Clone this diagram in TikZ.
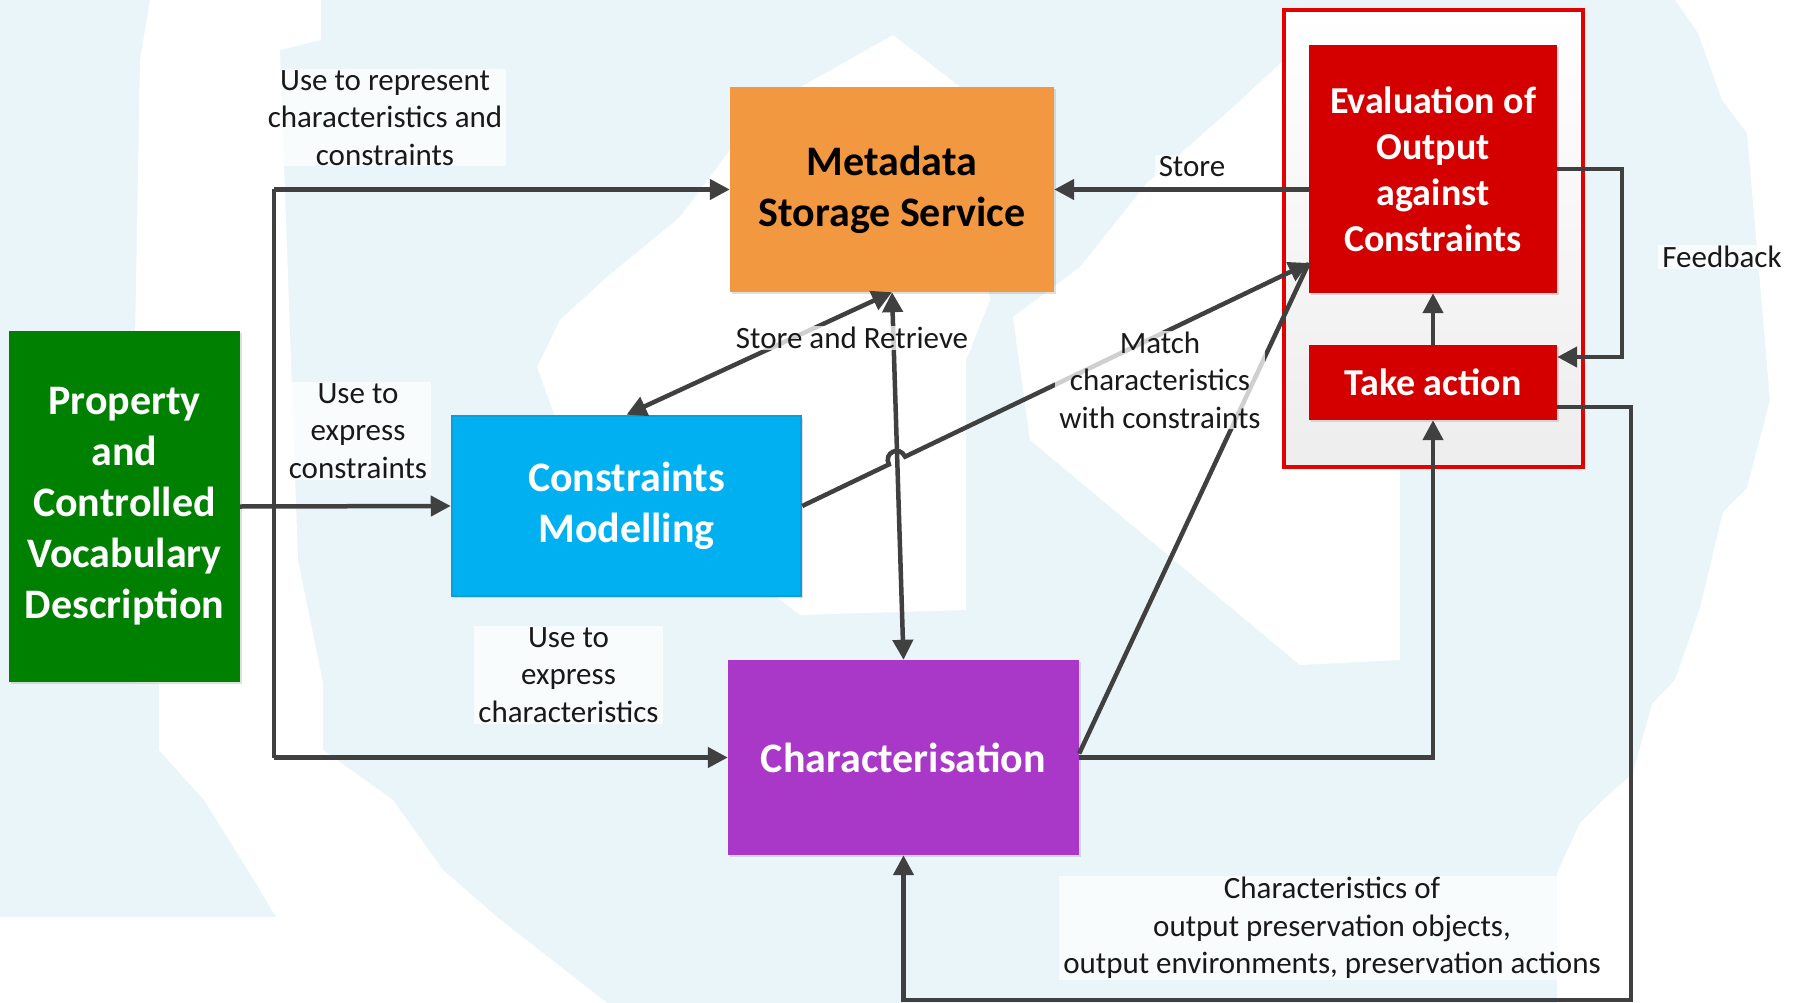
\documentclass[tikz,border=0pt]{standalone}
\usepackage{fontspec}
\setmainfont{Carlito}
\usetikzlibrary{arrows.meta,calc,shadows}
\definecolor{bgblue}{HTML}{EAF5FA}
\definecolor{gbox}{HTML}{008000}
\definecolor{obox}{HTML}{F29841}
\definecolor{bbox}{HTML}{00B0F0}
\definecolor{bboxd}{HTML}{0A9FD9}
\definecolor{pbox}{HTML}{A937C7}
\definecolor{rbox}{HTML}{D40000}
\definecolor{rframe}{HTML}{E20000}
\definecolor{linec}{HTML}{404040}
\begin{document}
\begin{tikzpicture}[x=1pt,y=-1pt,
  box/.style={rectangle, inner sep=0pt, align=center, text=white,
    font=\bfseries\fontsize{42}{51}\selectfont,
    drop shadow={shadow xshift=2pt,shadow yshift=-2pt,opacity=0.25}},
  lbl/.style={align=center, font=\fontsize{31}{37.5}\selectfont, text=black!90,
    inner xsep=4pt, inner ysep=1pt, fill=white, fill opacity=0.75, text opacity=1},
  conn/.style={draw=linec, line width=4.5pt},
  arr/.style={conn, -{Triangle[length=20pt,width=20pt]}},
  darr/.style={conn, {Triangle[length=20pt,width=20pt]}-{Triangle[length=20pt,width=20pt]}},
]
\useasboundingbox (0,0) rectangle (1801,1003);
% background
\fill[bgblue] (0,0) rectangle (1801,1003);
\fill[white] (150,0) -- (321,0) -- (321,40) -- (280,50) -- (298,560) -- (323,683) -- (323,750) -- (393,800) -- (443,870) -- (497,917) -- (607,1003) -- (0,1003) -- (0,917) -- (276,917) -- (254,880) -- (204,800) -- (159,750) -- (159,683) -- (135,683) -- (135,340) -- (140,60) -- cycle;
\fill[white] (893,35) -- (960,87) -- (990,300) -- (966,360) -- (966,610) -- (800,615) -- (560,430) -- (537,367) -- (560,320) -- (607,277) -- (680,217) -- (760,110) -- cycle;
\fill[white] (1284,60) -- (1284,467) -- (1400,467) -- (1400,660) -- (1300,665) -- (1030,440) -- (1013,317) -- (1080,267) -- (1147,183) -- (1230,110) -- cycle;
\fill[white] (1675,0) -- (1801,0) -- (1801,1003) -- (1557,1003) -- (1557,873) -- (1580,823) -- (1603,800) -- (1633,773) -- (1652,704) -- (1675,680) -- (1700,608) -- (1723,512) -- (1747,488) -- (1770,400) -- (1747,133) -- (1722,100) -- (1698,33) -- cycle;

% outer red frame
\node[draw=rframe, line width=4pt, top color=white, bottom color=black!7, minimum width=299pt, minimum height=457pt, inner sep=0pt] (frame) at (1433.5,238.5) {};

% boxes
\node[box, fill=gbox, minimum width=231pt, minimum height=351pt] (green) at (124.5,506.5) {Property\\and\\Controlled\\Vocabulary\\Description};
\node[box, fill=obox, text=black, minimum width=324pt, minimum height=205pt] (meta) at (892,189.5) {Metadata\\Storage Service};
\node[box, fill=bbox, draw=bboxd, line width=2.5pt, minimum width=349pt, minimum height=180pt] (cons) at (626.5,506) {Constraints\\Modelling};
\node[box, fill=pbox, minimum width=351pt, minimum height=195pt] (char) at (903.5,757.5) {Characterisation};
\node[box, fill=rbox, font=\bfseries\fontsize{38}{46}\selectfont, minimum width=248pt, minimum height=248pt] (eval) at (1433,169) {Evaluation of\\Output\\against\\Constraints};
\node[box, fill=rbox, font=\bfseries\fontsize{38}{46}\selectfont, minimum width=248pt, minimum height=75pt] (take) at (1433,382.5) {Take action};

% connectors from the vocabulary box
\coordinate (j1) at (274,189.5);
\coordinate (j2) at (274,757.5);
\draw[conn] (j1) -- (j2);
\draw[arr] (j1) -- (meta.west);
\draw[arr] (j2) -- (char.west);
\draw[arr] (green.east) -- (cons.west);

% store and retrieve
\draw[darr] (meta.south) -- (cons.north);
\draw[darr] (meta.south) -- (char.north);

% store
\draw[arr] (eval.west |- meta.east) -- (meta.east);

% match (with a jump over the vertical line)
\coordinate (evin) at ([yshift=-94pt]eval.west);
\coordinate (ja) at ($(cons.east)!0.171!(evin)$);
\coordinate (jb) at ($(cons.east)!0.203!(evin)$);
\draw[arr] (cons.east) -- (ja) .. controls ($(ja)!13pt!90:(jb)$) and ($(jb)!13pt!-90:(ja)$) .. (jb) -- (evin);
\coordinate (cout) at ([yshift=4pt]char.east);
\draw[conn] (cout) -- (evin);

% characterisation to take action
\coordinate (c1) at (take.south |- char.east);
\draw[arr] (char.east) -- (c1) -- (take.south);
\draw[arr] (take.north) -- (eval.south);

% feedback
\coordinate (fa) at (1622,169);
\coordinate (fb) at (1622,357);
\draw[arr] (eval.east) -- (fa) -- (fb) -- ([yshift=25.5pt]take.east);

% loop back to characterisation
\coordinate (ta) at ([yshift=-24.5pt]take.east);
\coordinate (tb) at (1631,407);
\coordinate (tc) at (1631,1000);
\coordinate (td) at (char.south |- tc);
\draw[arr] (ta) -- (tb) -- (tc) -- (td) -- (char.south);

% labels (drawn over the connectors)
\node[lbl] (l1) at (385,117.7) {Use to represent\\characteristics and\\constraints};
\node[lbl] (l2) at (358,431) {Use to\\express\\constraints};
\node[lbl] (l3) at (568.5,675) {Use to\\express\\characteristics};
\node[lbl] (l4) at (852,338) {Store and Retrieve};
\node[lbl] (l5) at (1192,166.5) {Store};
\node[lbl] (l6) at (1160,380) {Match\\characteristics\\with constraints};
\node[lbl] (l7) at (1722,257) {Feedback};
\node[lbl] (l8) at (1332,928) {Characteristics of\\output preservation objects,\\output environments, preservation actions};
\end{tikzpicture}
\end{document}
